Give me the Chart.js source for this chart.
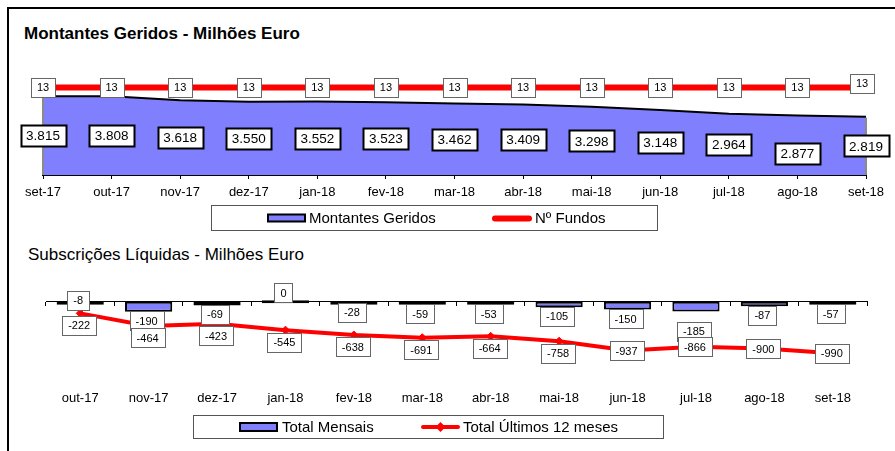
<!DOCTYPE html>
<html>
<head>
<meta charset="utf-8">
<script src="https://cdn.jsdelivr.net/npm/chart.js@4.4.1/dist/chart.umd.min.js"></script>
<style>
  html, body { margin: 0; padding: 0; background: #fff; }
  #wrap { position: relative; width: 895px; height: 451px; overflow: hidden; font-family: "Liberation Sans", Arial, sans-serif; }
  #frame { position: absolute; left: 7px; top: 7px; width: 900px; height: 460px; border-left: 2px solid #000; border-top: 2px solid #000; }
  canvas { position: absolute; left: 0; top: 0; }
  .title { position: absolute; font-size: 17px; line-height: 20px; color: #000; white-space: nowrap; }
</style>
</head>
<body>
<div id="wrap">
  <div id="frame"></div>
  <div class="title" style="left:24px; top:24px; font-weight:bold;">Montantes Geridos - Milhões Euro</div>
  <div class="title" style="left:28px; top:245px;">Subscrições Líquidas - Milhões Euro</div>
  <canvas id="topChart" width="895" height="451"></canvas>
  <canvas id="bottomChart" width="895" height="451"></canvas>
</div>
<script>
// montantes geridos (milhões de euro) e nº de fundos
const months = ['set-17', 'out-17', 'nov-17', 'dez-17', 'jan-18', 'fev-18', 'mar-18',
                'abr-18', 'mai-18', 'jun-18', 'jul-18', 'ago-18', 'set-18'];
const montantesGeridos = [3815, 3808, 3618, 3550, 3552, 3523, 3462, 3409, 3298, 3148, 2964, 2877, 2819];
const numeroFundos = [13, 13, 13, 13, 13, 13, 13, 13, 13, 13, 13, 13, 13];

// subscrições líquidas (milhões de euro)
const subscMonths = ['out-17', 'nov-17', 'dez-17', 'jan-18', 'fev-18', 'mar-18',
                     'abr-18', 'mai-18', 'jun-18', 'jul-18', 'ago-18', 'set-18'];
const totalMensais = [-8, -190, -69, 0, -28, -59, -53, -105, -150, -185, -87, -57];
const totalUltimos12 = [-222, -464, -423, -545, -638, -691, -664, -758, -937, -866, -900, -990];

const FONT = '"Liberation Sans", Arial, sans-serif';
Chart.defaults.font.family = FONT;
Chart.defaults.color = '#000';

function fmt(v) {
    const s = String(Math.abs(v)).replace(/\B(?=(\d{3})+(?!\d))/g, '.');
    return (v < 0 ? '-' : '') + s;
}

function boxLabel(ctx, text, x, y, o) {
    ctx.font = o.font;
    const w = Math.round(ctx.measureText(text).width + o.padX * 2);
    const h = o.height;
    const left = Math.round(x - w / 2) + 0.5;
    const top = Math.round(y - h / 2) + 0.5;
    ctx.fillStyle = '#fff';
    ctx.fillRect(left, top, w, h);
    ctx.lineWidth = o.borderWidth;
    ctx.strokeStyle = o.borderColor;
    ctx.strokeRect(left, top, w, h);
    ctx.fillStyle = '#000';
    ctx.textAlign = 'center';
    ctx.textBaseline = 'middle';
    ctx.fillText(text, x, y + 1);
}

function legendFrame(ctx, x, y, w, h) {
    ctx.strokeStyle = '#555';
    ctx.lineWidth = 1;
    ctx.strokeRect(x + 0.5, y + 0.5, w, h);
}

function legendText(ctx, text, x, y) {
    ctx.font = '15px ' + FONT;
    ctx.fillStyle = '#000';
    ctx.textAlign = 'left';
    ctx.textBaseline = 'alphabetic';
    ctx.fillText(text, x, y);
}

const topLabels = {
    id: 'topLabels',
    afterDraw(chart) {
        const ctx = chart.ctx;
        const areaMeta = chart.getDatasetMeta(0);
        const fundosMeta = chart.getDatasetMeta(1);
        const y = chart.scales.y;
        const base = y.getPixelForValue(0);
        ctx.save();
        // grey side edges of the area
        ctx.strokeStyle = '#8a8a8a';
        ctx.lineWidth = 2;
        [0, areaMeta.data.length - 1].forEach(i => {
            const p = areaMeta.data[i];
            ctx.beginPath();
            ctx.moveTo(p.x, p.y + 1);
            ctx.lineTo(p.x, base);
            ctx.stroke();
        });
        // montantes labels, centred in the area
        const areaNudge = {11: 8};
        areaMeta.data.forEach((p, i) => {
            const v = montantesGeridos[i];
            boxLabel(ctx, fmt(v), p.x, y.getPixelForValue(v / 2) + (areaNudge[i] || 0), {
                font: '13.5px ' + FONT, padX: 5.5, height: 21, borderWidth: 2, borderColor: '#000'
            });
        });
        // nº fundos labels
        fundosMeta.data.forEach((p, i) => {
            const last = i === fundosMeta.data.length - 1;
            boxLabel(ctx, String(numeroFundos[i]), p.x - (last ? 4 : 0), p.y - (last ? 4 : 0), {
                font: '11px ' + FONT, padX: 6, height: 19, borderWidth: 1, borderColor: '#666'
            });
        });
        // legend
        const ds = chart.data.datasets;
        legendFrame(ctx, 211, 205, 446, 25);
        ctx.fillStyle = '#8080FF';
        ctx.fillRect(268, 214.5, 37, 7);
        ctx.strokeStyle = '#000';
        ctx.lineWidth = 2;
        ctx.strokeRect(268, 214.5, 37, 7);
        legendText(ctx, ds[0].label, 309, 223);
        ctx.strokeStyle = '#FF0000';
        ctx.lineWidth = 6;
        ctx.lineCap = 'round';
        ctx.beginPath();
        ctx.moveTo(495, 218.5);
        ctx.lineTo(529, 218.5);
        ctx.stroke();
        legendText(ctx, ds[1].label, 535, 223);
        ctx.restore();
    }
};

new Chart(document.getElementById('topChart'), {
    type: 'line',
    plugins: [topLabels],
    data: {
        labels: months,
        datasets: [
            {
                label: 'Montantes Geridos',
                data: montantesGeridos,
                yAxisID: 'y',
                fill: 'origin',
                backgroundColor: '#8080FF',
                borderColor: '#000',
                borderWidth: 2,
                pointRadius: 0,
                tension: 0,
                order: 1
            },
            {
                label: 'Nº Fundos',
                data: numeroFundos,
                yAxisID: 'y2',
                borderColor: '#FF0000',
                borderWidth: 6,
                pointRadius: 0,
                fill: false,
                order: 0
            }
        ]
    },
    options: {
        responsive: false,
        animation: false,
        devicePixelRatio: 1,
        layout: { padding: { left: 43, right: 29, top: 82, bottom: 246 } },
        plugins: { legend: { display: false }, tooltip: { enabled: false } },
        scales: {
            x: {
                offset: false,
                z: 1,
                grid: {
                    color: c => (c.index === 0 || c.index === months.length - 1)
                        ? 'rgba(0,0,0,0)' : 'rgba(255,255,255,0.7)',
                    lineWidth: 1,
                    drawTicks: true,
                    tickLength: 4,
                    tickColor: '#000'
                },
                border: { display: true, color: '#000', width: 2 },
                ticks: { color: '#000', font: { size: 13 }, padding: 6, maxRotation: 0, autoSkip: false },
                afterFit: s => { s.height = 30; }
            },
            y: { display: false, min: 0, max: 4500 },
            y2: { display: false, min: 0, max: 13.8, position: 'right' }
        }
    }
});

const bottomLabels = {
    id: 'bottomLabels',
    afterDraw(chart) {
        const ctx = chart.ctx;
        const y = chart.scales.y;
        const lineMeta = chart.getDatasetMeta(0);
        const barMeta = chart.getDatasetMeta(1);
        const small = { font: '11px ' + FONT, padX: 6, height: 19, borderWidth: 1, borderColor: '#666' };
        ctx.save();
        // monthly bar labels, below the bar end
        const barShift = {0: -2, 3: -9, 9: 20};
        barMeta.data.forEach((b, i) => {
            const v = totalMensais[i];
            const shift = barShift[i] !== undefined ? barShift[i] : 9;
            boxLabel(ctx, fmt(v), b.x - 2, y.getPixelForValue(v) + shift, small);
        });
        // 12-month total labels
        lineMeta.data.forEach((p, i) => {
            boxLabel(ctx, fmt(totalUltimos12[i]), p.x - 1, p.y + (i < 8 ? 12 : 0), small);
        });
        // legend
        const ds = chart.data.datasets;
        legendFrame(ctx, 193, 415, 470, 23);
        ctx.fillStyle = '#8080FF';
        ctx.fillRect(240, 423, 37, 8);
        ctx.strokeStyle = '#000';
        ctx.lineWidth = 2;
        ctx.strokeRect(240, 423, 37, 8);
        legendText(ctx, ds[1].label, 282, 432);
        ctx.strokeStyle = '#FF0000';
        ctx.lineWidth = 4;
        ctx.lineCap = 'round';
        ctx.beginPath();
        ctx.moveTo(423, 427);
        ctx.lineTo(458, 427);
        ctx.stroke();
        ctx.fillStyle = '#FF0000';
        ctx.beginPath();
        ctx.moveTo(440.5, 422);
        ctx.lineTo(445.5, 427);
        ctx.lineTo(440.5, 432);
        ctx.lineTo(435.5, 427);
        ctx.closePath();
        ctx.fill();
        legendText(ctx, ds[0].label, 463, 432);
        ctx.restore();
    }
};

new Chart(document.getElementById('bottomChart'), {
    type: 'bar',
    plugins: [bottomLabels],
    data: {
        labels: subscMonths,
        datasets: [
            {
                type: 'line',
                label: 'Total Últimos 12 meses',
                data: totalUltimos12,
                borderColor: '#FF0000',
                borderWidth: 4,
                pointStyle: 'rectRot',
                pointRadius: 4,
                pointBorderWidth: 1,
                pointBackgroundColor: '#FF0000',
                pointBorderColor: '#FF0000',
                tension: 0,
                fill: false,
                order: 0
            },
            {
                type: 'bar',
                label: 'Total Mensais',
                data: totalMensais,
                backgroundColor: '#8080FF',
                borderColor: '#000',
                borderWidth: 2,
                borderSkipped: false,
                minBarLength: 3,
                categoryPercentage: 1,
                barPercentage: 0.69,
                order: 1
            }
        ]
    },
    options: {
        responsive: false,
        animation: false,
        devicePixelRatio: 1,
        layout: { padding: { left: 46, right: 28, top: 281, bottom: 41 } },
        plugins: { legend: { display: false }, tooltip: { enabled: false } },
        scales: {
            x: {
                offset: true,
                grid: { display: false, drawTicks: false },
                border: { display: false },
                ticks: { color: '#000', font: { size: 13 }, padding: 6, maxRotation: 0, autoSkip: false },
                afterFit: s => { s.height = 25; }
            },
            x2: {
                type: 'category',
                axis: 'x',
                position: { y: 0 },
                offset: true,
                grid: { offset: true, drawOnChartArea: false, drawTicks: true, tickLength: 4, color: '#000' },
                border: { display: true, color: '#000', width: 1 },
                ticks: { display: false }
            },
            y: { display: false, min: -1600, max: 400 }
        }
    }
});
</script>
</body>
</html>
